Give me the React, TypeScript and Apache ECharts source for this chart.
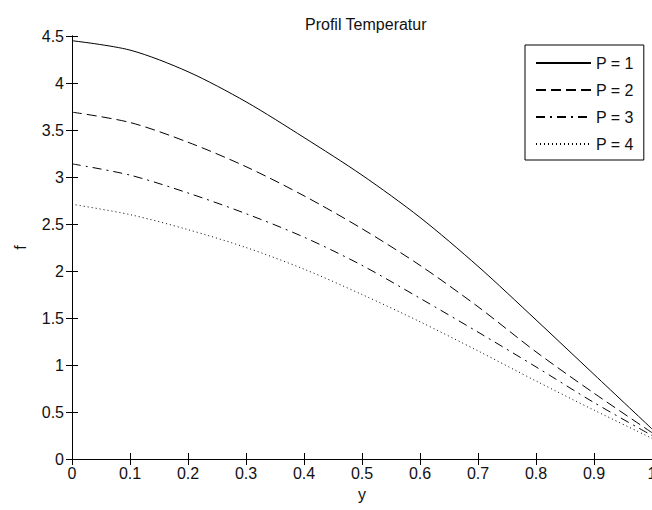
import React, { useEffect, useRef } from "react";
import * as echarts from "echarts";

// Dimensionless position across the channel
const yPositions = [0, 0.1, 0.2, 0.3, 0.4, 0.5, 0.6, 0.7, 0.8, 0.9, 1.0];

// Temperature profile f(y) for each value of the parameter P
const profileP1 = [4.45, 4.35, 4.12, 3.8, 3.42, 3.02, 2.57, 2.05, 1.48, 0.9, 0.32];
const profileP2 = [3.69, 3.58, 3.37, 3.11, 2.8, 2.45, 2.06, 1.62, 1.14, 0.7, 0.28];
const profileP3 = [3.14, 3.02, 2.83, 2.61, 2.36, 2.06, 1.71, 1.35, 0.98, 0.6, 0.25];
const profileP4 = [2.71, 2.6, 2.44, 2.25, 2.02, 1.75, 1.46, 1.15, 0.83, 0.52, 0.22];

const seriesNames = ["P = 1", "P = 2", "P = 3", "P = 4"];
const dashPatterns: (string | number[])[] = ["solid", [10, 5], [9, 5, 2, 5], [1, 3]];

const FONT = "'Liberation Sans', Arial, sans-serif";

export default function App() {
  const ref = useRef<HTMLDivElement>(null);

  useEffect(() => {
    if (!ref.current) return;
    const chart = echarts.init(ref.current, undefined, { renderer: "svg" });
    const profiles = [profileP1, profileP2, profileP3, profileP4];

    const axisLine = { show: true, lineStyle: { color: "#000", width: 1 } };
    const axisTick = { show: true, inside: true, length: 6, lineStyle: { color: "#000", width: 1 } };
    const axisLabelStyle = { color: "#111", fontSize: 16, fontFamily: FONT };

    chart.setOption({
      animation: false,
      backgroundColor: "#fff",
      title: {
        text: "Profil Temperatur",
        left: 300,
        top: 11,
        textStyle: { color: "#111", fontSize: 16, fontWeight: "normal", fontFamily: FONT },
      },
      grid: {
        left: 72,
        top: 36,
        width: 580,
        bottom: 51,
        containLabel: false,
        outerBoundsMode: "none",
      },
      legend: {
        orient: "vertical",
        left: 525,
        top: 45,
        width: 122,
        padding: [10, 10, 8, 10],
        itemWidth: 55,
        itemHeight: 14,
        itemGap: 11,
        borderColor: "#000",
        borderWidth: 1,
        backgroundColor: "#fff",
        itemStyle: { opacity: 0 },
        textStyle: { color: "#111", fontSize: 16, fontFamily: FONT },
        data: seriesNames,
      },
      xAxis: [
        {
          type: "value",
          min: 0,
          max: 1,
          interval: 0.1,
          position: "bottom",
          name: "y",
          nameLocation: "middle",
          nameGap: 27,
          nameTextStyle: axisLabelStyle,
          axisLine,
          axisTick,
          axisLabel: { ...axisLabelStyle, margin: 6, showMaxLabel: true, hideOverlap: false },
          splitLine: { show: false },
        },
        {
          type: "value",
          min: 0,
          max: 1,
          interval: 0.1,
          position: "top",
          axisLine,
          axisTick,
          axisLabel: { show: false },
          splitLine: { show: false },
        },
      ],
      yAxis: [
        {
          type: "value",
          min: 0,
          max: 4.5,
          interval: 0.5,
          position: "left",
          name: "f",
          nameLocation: "middle",
          nameGap: 44,
          nameTextStyle: axisLabelStyle,
          axisLine,
          axisTick,
          axisLabel: { ...axisLabelStyle, margin: 8 },
          splitLine: { show: false },
        },
        {
          type: "value",
          min: 0,
          max: 4.5,
          interval: 0.5,
          position: "right",
          axisLine,
          axisTick,
          axisLabel: { show: false },
          splitLine: { show: false },
        },
      ],
      series: profiles.map((vals, i) => ({
        name: seriesNames[i],
        type: "line",
        xAxisIndex: 0,
        yAxisIndex: 0,
        data: yPositions.map((y, k) => [y, vals[k]]),
        smooth: 0.3,
        symbol: "none",
        color: "#000",
        lineStyle: { color: "#000", width: 1, type: dashPatterns[i] },
      })),
    });

    return () => chart.dispose();
  }, []);

  return (
    <div
      ref={ref}
      style={{ position: "absolute", left: 0, top: 0, width: 652, height: 510 }}
    />
  );
}
